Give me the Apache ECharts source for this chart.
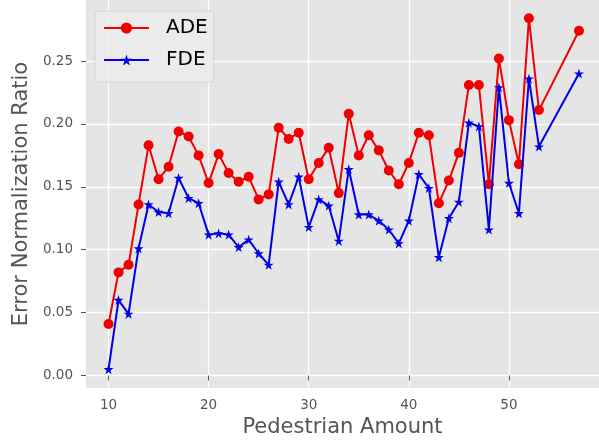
<!DOCTYPE html>
<html>
<head>
<meta charset="utf-8">
<script src="https://cdn.jsdelivr.net/npm/echarts@6/dist/echarts.min.js"></script>
<style>
html,body{margin:0;padding:0;background:#fff;}
#c{width:599px;height:440px;}
</style>
</head>
<body>
<div id="c"></div>
<script>
var xValues = [10,11,12,13,14,15,16,17,18,19,20,21,22,23,24,25,26,27,28,29,30,31,32,33,34,35,36,37,38,39,40,41,42,43,44,45,46,47,48,49,50,51,52,53,57];
var ade = [0.041,0.082,0.088,0.136,0.183,0.156,0.166,0.194,0.190,0.175,0.153,0.176,0.161,0.154,0.158,0.140,0.144,0.197,0.188,0.193,0.156,0.169,0.181,0.145,0.208,0.175,0.191,0.179,0.163,0.152,0.169,0.193,0.191,0.137,0.155,0.177,0.231,0.231,0.152,0.252,0.203,0.168,0.284,0.211,0.274];
var fde = [0.005,0.060,0.049,0.101,0.136,0.130,0.129,0.157,0.141,0.137,0.112,0.113,0.112,0.102,0.108,0.097,0.088,0.154,0.136,0.158,0.118,0.140,0.135,0.107,0.164,0.128,0.128,0.123,0.116,0.105,0.123,0.160,0.149,0.094,0.125,0.138,0.201,0.198,0.116,0.229,0.153,0.129,0.236,0.182,0.240];
var seriesNames = ['ADE', 'FDE'];
var xTicks = [10, 20, 30, 40, 50];
var yTicks = [0.00, 0.05, 0.10, 0.15, 0.20, 0.25];
var xTitle = 'Pedestrian Amount';
var yTitle = 'Error Normalization Ratio';

var STAR = 'path://M50,0 L61.2,34.5 L97.6,34.5 L68.2,55.9 L79.4,90.5 L50,69.1 L20.6,90.5 L31.8,55.9 L2.4,34.5 L38.8,34.5 Z';
var FONT = 'DejaVu Sans';

function pairs(xs, ys) { return xs.map(function (x, i) { return [x, ys[i]]; }); }

var chart = echarts.init(document.getElementById('c'), null, {renderer: 'canvas'});
chart.setOption({
  animation: false,
  backgroundColor: '#ffffff',
  textStyle: {fontFamily: FONT},
  grid: {left: 86, right: 0, top: 0, bottom: 52, show: true, backgroundColor: '#E5E5E5', borderWidth: 0,
    containLabel: false, outerBoundsMode: 'none'},
  legend: {
    orient: 'vertical', left: 95, top: 11,
    data: seriesNames,
    itemWidth: 45, itemHeight: 14, itemGap: 8,
    padding: [5, 6, 10, 8],
    backgroundColor: 'rgba(236,236,236,0.85)',
    borderColor: '#d4d4d4', borderWidth: 1, borderRadius: 3,
    textStyle: {fontFamily: FONT, fontSize: 20, color: '#000', padding: [0, 0, 0, 12], lineHeight: 24}
  },
  xAxis: {
    type: 'value', min: 7.75, max: 59.0,
    name: xTitle, nameLocation: 'middle', nameGap: 29,
    nameTextStyle: {fontFamily: FONT, fontSize: 21, color: '#555555'},
    axisLine: {show: false},
    axisTick: {show: true, length: 5, customValues: xTicks, lineStyle: {color: '#555555', width: 1}},
    axisLabel: {margin: 10, fontFamily: FONT, fontSize: 13.5, color: '#555555', customValues: xTicks,
      formatter: function (v) { return String(Math.round(v)); }},
    splitLine: {show: true, lineStyle: {color: '#ffffff', width: 1.3}}
  },
  yAxis: {
    type: 'value', min: -0.0099, max: 0.2985,
    name: yTitle, nameLocation: 'middle', nameGap: 47, nameRotate: 90,
    nameTextStyle: {fontFamily: FONT, fontSize: 21, color: '#555555'},
    axisLine: {show: false},
    axisTick: {show: true, length: 5, customValues: yTicks, lineStyle: {color: '#555555', width: 1}},
    axisLabel: {margin: 13, fontFamily: FONT, fontSize: 13.5, color: '#555555', customValues: yTicks,
      formatter: function (v) { return v.toFixed(2); }},
    splitLine: {show: true, lineStyle: {color: '#ffffff', width: 1.3}}
  },
  series: [
    {
      name: seriesNames[0], type: 'line', data: pairs(xValues, ade),
      symbol: 'circle', symbolSize: 10, showAllSymbol: true,
      lineStyle: {color: '#f00000', width: 2},
      itemStyle: {color: '#f00000'},
      z: 2
    },
    {
      name: seriesNames[1], type: 'line', data: pairs(xValues, fde),
      symbol: STAR, symbolSize: 10, showAllSymbol: true,
      lineStyle: {color: '#0000e6', width: 2},
      itemStyle: {color: '#0000e6'},
      z: 3
    }
  ]
});
</script>
</body>
</html>
